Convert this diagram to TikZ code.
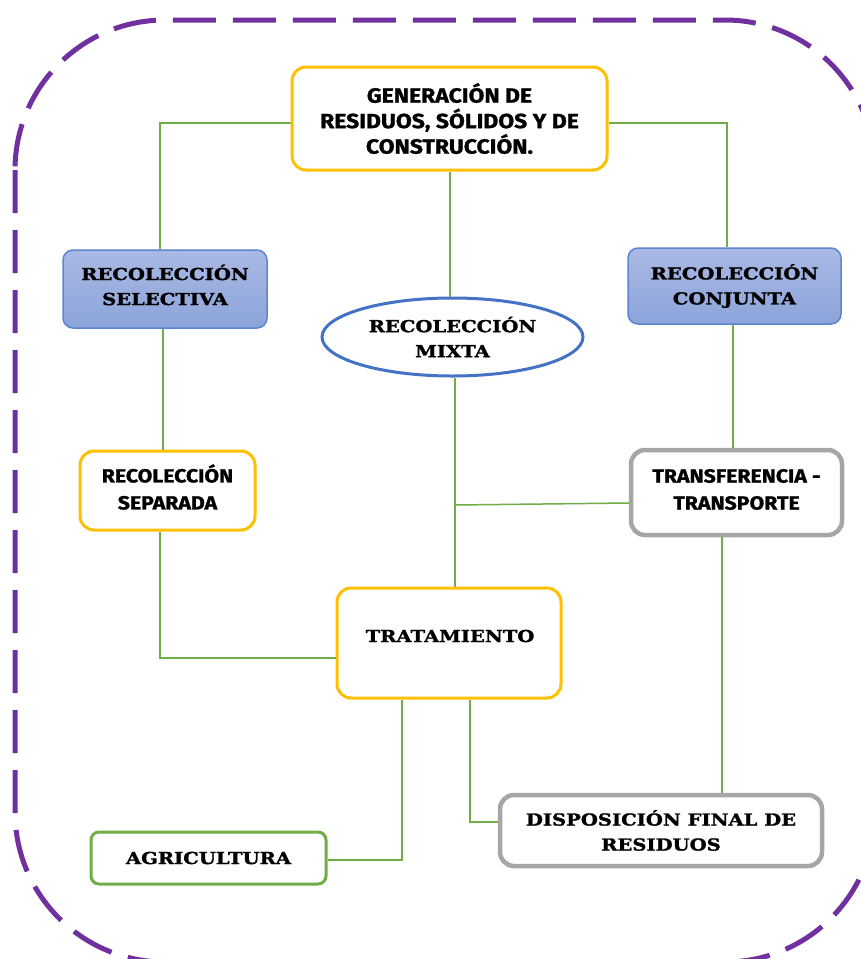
\documentclass[tikz,border=0pt]{standalone}
\usepackage{fontspec}
\usetikzlibrary{shapes.geometric}
\newfontfamily\slabfont{DejaVu Serif}[UprightFont={DejaVu Serif Bold},FakeStretch=1.185,FakeBold=1.5]
\newfontfamily\gothfont{Fira Sans Bold}[FakeStretch=1.12,FakeBold=1.2]
\definecolor{ybord}{HTML}{FFC000}
\definecolor{gbord}{HTML}{A6A6A6}
\definecolor{grn}{HTML}{70AD47}
\definecolor{bbord}{HTML}{5B85D0}
\definecolor{btop}{HTML}{AAB9E4}
\definecolor{bbot}{HTML}{8CA4DA}
\definecolor{ell}{HTML}{4472C4}
\definecolor{purp}{HTML}{7030A0}
\tikzset{
  box/.style={draw, rounded corners=14pt, align=center, inner sep=0pt, fill=white},
  ybox/.style={box, draw=ybord, line width=3pt},
  gbox/.style={box, draw=gbord, line width=4.5pt},
  bbox/.style={box, draw=bbord, line width=1.5pt, top color=btop, bottom color=bbot, rounded corners=10pt},
  agbox/.style={box, draw=grn, line width=3pt, rounded corners=8pt},
  slab/.style={font=\slabfont\fontsize{16.5}{25}\selectfont},
  goth/.style={font=\gothfont\fontsize{19}{27}\selectfont},
  gothbig/.style={font=\gothfont\fontsize{20.5}{25.5}\selectfont},
  link/.style={draw=grn, line width=1.5pt},
  txt/.style={inner sep=0pt, align=center},
}
\begin{document}
\begin{tikzpicture}[x=1pt,y=-1pt]
\useasboundingbox (0,0) rectangle (861,959);
\draw[purp, line width=5pt, dash pattern=on 43pt off 17pt, rounded corners=150pt] (15,20) rectangle (875,962);

\node[ybox, gothbig, minimum width=315pt, minimum height=103pt] (gen) at (449.5,118.5) {GENERACIÓN DE\\RESIDUOS, SÓLIDOS Y DE\\CONSTRUCCIÓN.};
\node[bbox, minimum width=204pt, minimum height=78pt] (sel) at (165,289) {};
\node[txt, slab] (sellbl) at (165,285) {RECOLECCIÓN\\SELECTIVA};
\node[bbox, slab, minimum width=213pt, minimum height=76pt] (conj) at (734.5,286) {RECOLECCIÓN\\CONJUNTA};
\node[ellipse, draw=ell, line width=3pt, fill=white, slab, inner sep=0pt, minimum width=261pt, minimum height=78pt, align=center] (mix) at (452.5,337) {RECOLECCIÓN\\MIXTA};
\node[ybox, minimum width=175pt, minimum height=79pt] (sep) at (167.5,490.5) {};
\node[txt, goth] (seplbl) at (167.5,487) {RECOLECCIÓN\\SEPARADA};
\node[gbox, minimum width=211pt, minimum height=85pt] (tra) at (736.5,492.5) {};
\node[txt, goth] (tralbl) at (736.5,489.5) {TRANSFERENCIA -\\TRANSPORTE};
\node[ybox, minimum width=224pt, minimum height=110pt] (trat) at (449,643) {};
\node[slab] (tratl) at (450,636) {TRATAMIENTO};
\node[agbox, slab, minimum width=235pt, minimum height=52pt] (agr) at (208.5,858) {AGRICULTURA};
\node[gbox, slab, minimum width=322pt, minimum height=71pt] (disp) at (661,830.5) {DISPOSICIÓN FINAL DE\\RESIDUOS};

\coordinate (j) at (455,505);

\draw[link] (gen.west |- 0,123) -| (sel.north -| 160,0);
\draw[link] (gen.east |- 0,123) -| (conj.north -| 727,0);
\draw[link] (gen.south -| 450,0) -- (mix.north -| 450,0);
\draw[link] (sel.south -| 163,0) -- (sep.north -| 163,0);
\draw[link] (conj.south -| 733,0) -- (tra.north -| 733,0);
\draw[link] (mix.south -| 455,0) -- (trat.north -| 455,0);
\draw[link] (tra.west |- 0,503) -- (j);
\draw[link] (sep.south -| 160,0) |- (trat.west |- 0,658);
\draw[link] (trat.south -| 402,0) |- (agr.east |- 0,860);
\draw[link] (trat.south -| 470,0) |- (disp.west |- 0,822);
\draw[link] (tra.south -| 722,0) -- (disp.north -| 722,0);
\end{tikzpicture}
\end{document}
